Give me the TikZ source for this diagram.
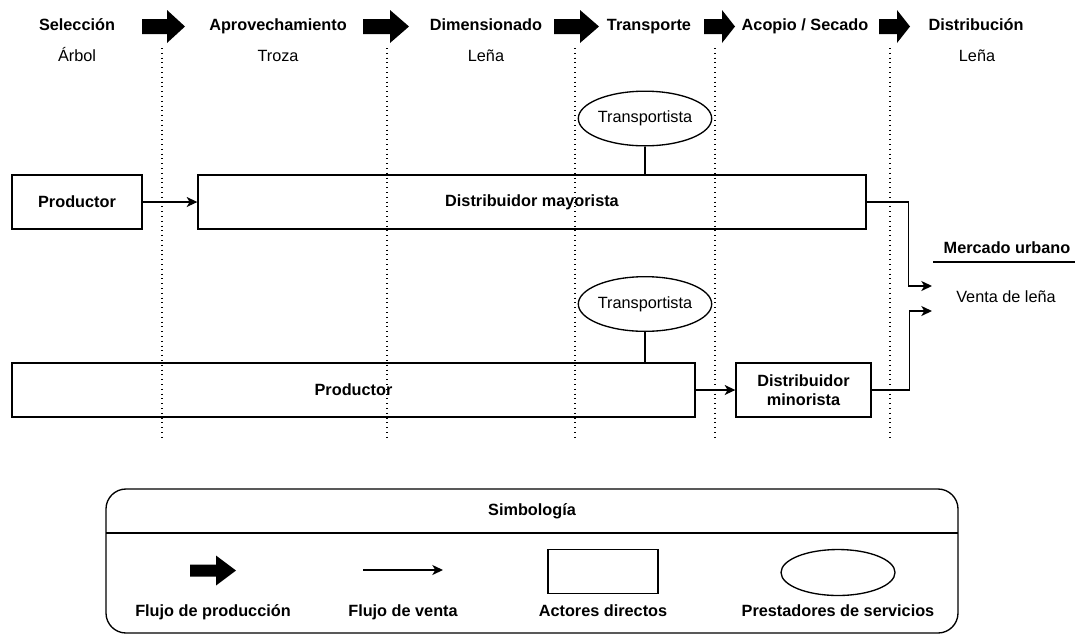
\documentclass[tikz,border=0pt]{standalone}
\usepackage{fontspec}
\setmainfont{Liberation Sans}
\usetikzlibrary{arrows.meta,shapes.geometric}
\begin{document}
\begin{tikzpicture}[x=0.75pt,y=-0.75pt,
  every node/.style={font=\fontsize{12.2}{14.5}\selectfont, inner sep=0pt},
  hdr/.style={font=\bfseries\fontsize{12.2}{14.5}\selectfont, text height=0.72em, text depth=0.2em},
  sub/.style={text height=0.72em, text depth=0.2em},
  actor/.style={draw, line width=1pt, font=\bfseries\fontsize{12.2}{14.5}\selectfont, align=center, minimum height=40.5pt},
  service/.style={draw, ellipse, line width=1pt, minimum width=93pt, minimum height=41pt},
  sale/.style={line width=1pt, -{Stealth[length=8pt,width=7.5pt,inset=2.2pt]}},
  link/.style={line width=1pt},
  stage/.style={line width=0.8pt, dash pattern=on 0.8pt off 2.8pt},
  pics/flowarr/.style n args={4}{code={%
    \fill (0,-#3) -- (#2,-#3) -- (#2,-#4) -- (#1,0) -- (#2,#4) -- (#2,#3) -- (0,#3) -- cycle;}}
]
\useasboundingbox (0,0) rectangle (1075,637);

% stage headers
\node[hdr] (h1) at (77,27) {Selección};
\node[hdr] (h2) at (278,27) {Aprovechamiento};
\node[hdr] (h3) at (486,27) {Dimensionado};
\node[hdr] (h4) at (649,27) {Transporte};
\node[hdr] (h5) at (805,27) {Acopio / Secado};
\node[hdr] (h6) at (976,27) {Distribución};
\node[sub] (s1) at (77,58) {Árbol};
\node[sub] (s2) at (278,58) {Troza};
\node[sub] (s3) at (486,58) {Leña};
\node[sub] (s6) at (977,58) {Leña};

% flow arrows
\pic at (142,26.5) {flowarr={43}{25}{7.5}{16.5}};
\pic at (363,26.5) {flowarr={46}{27}{7.5}{16.5}};
\pic at (554,26.5) {flowarr={45}{26}{7.5}{16.5}};
\pic at (704,26.5) {flowarr={31}{18}{7.5}{16.5}};
\pic at (879,26.5) {flowarr={31}{18}{7.5}{16.5}};

% stage separators
\foreach \xx in {162,387,575,715,890}
  \draw[stage] (\xx,48) -- (\xx,440);

% chain 1
\node[actor, minimum width=97.5pt] (p1) at (77,202) {Productor};
\node[actor, minimum width=501pt] (dm) at (532,202) {Distribuidor mayorista};
\node[service] (t1) at (645,118.5) {Transportista};
\draw[sale] (p1) -- (dm);
\draw[link] (t1.south) -- (t1.south |- dm.north);

% chain 2
\node[service] (t2) at (645,304) {Transportista};
\node[actor, minimum width=512.25pt] (p2) at (353.5,390) {Productor};
\node[actor, minimum width=101.25pt] (dmin) at (803.5,390) {Distribuidor\\minorista};
\draw[sale] (p2) -- (dmin);
\draw[link] (t2.south) -- (t2.south |- p2.north);

% market
\node[hdr] (mu) at (1007,250) {Mercado urbano};
\coordinate (ul1) at (933,262);
\coordinate (ul2) at (1075,262);
\draw[line width=0.8pt] (ul1) -- (ul2);
\node[sub] (vl) at (1006,299) {Venta de leña};
\coordinate (m1) at (932,286);
\coordinate (m2) at (932,311);
\draw[sale] (dm.east) -- ++(42,0) |- (m1);
\draw[sale] (dmin.east) -- ++(38,0) |- (m2);

% legend
\draw[line width=1pt, rounded corners=15pt] (106,489) rectangle (958,633);
\coordinate (dl1) at (106,533);
\coordinate (dl2) at (958,533);
\draw[line width=1pt] (dl1) -- (dl2);
\node[hdr] (simb) at (532,512) {Simbología};
\pic at (190,570.5) {flowarr={46}{26}{6}{15}};
\coordinate (la1) at (363,570);
\coordinate (la2) at (443,570);
\draw[sale] (la1) -- (la2);
\node[draw, line width=1pt, minimum width=82.5pt, minimum height=33pt] (lr) at (603,571.5) {};
\node[draw, ellipse, line width=1pt, minimum width=85.5pt, minimum height=34.5pt] (le) at (838,572.5) {};
\node[hdr] (l1) at (213,613) {Flujo de producción};
\node[hdr] (l2) at (403,613) {Flujo de venta};
\node[hdr] (l3) at (603,613) {Actores directos};
\node[hdr] (l4) at (838,613) {Prestadores de servicios};
\end{tikzpicture}
\end{document}
